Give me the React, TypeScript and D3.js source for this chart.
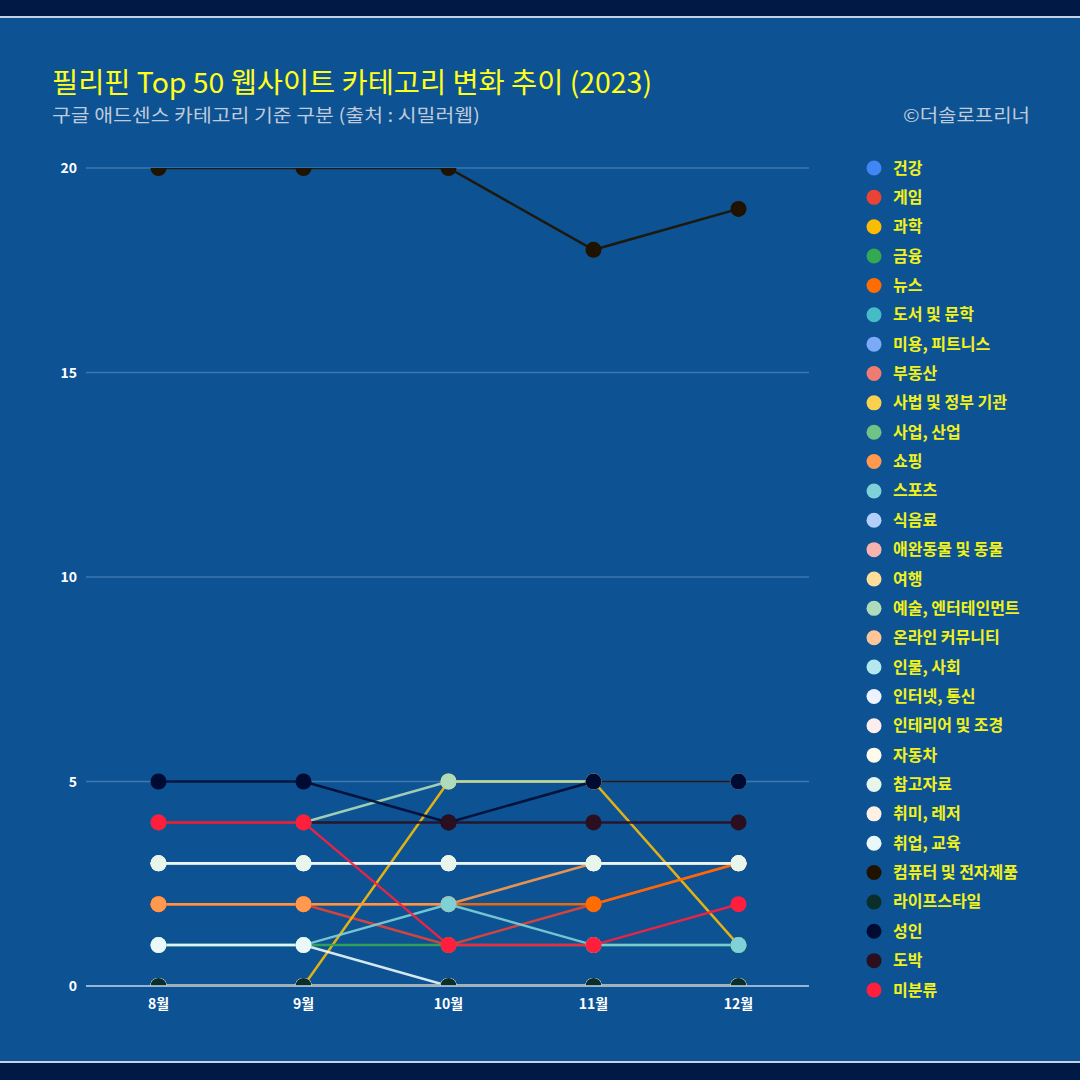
import React from "react";
import * as d3 from "d3";

const months = ["8월", "9월", "10월", "11월", "12월"];
const yTicks = [0, 5, 10, 15, 20];

const seriesNames = [
  "건강", "게임", "과학", "금융", "뉴스", "도서 및 문학", "미용, 피트니스", "부동산",
  "사법 및 정부 기관", "사업, 산업", "쇼핑", "스포츠", "식음료", "애완동물 및 동물", "여행",
  "예술, 엔터테인먼트", "온라인 커뮤니티", "인물, 사회", "인터넷, 통신", "인테리어 및 조경",
  "자동차", "참고자료", "취미, 레저", "취업, 교육", "컴퓨터 및 전자제품", "라이프스타일",
  "성인", "도박", "미분류",
];

const seriesColors = [
  "#4285F4", "#EA4335", "#FBBC04", "#34A853", "#FF6D01", "#46BDC6", "#7BAAF7", "#F07B72",
  "#FCD04F", "#71C287", "#FF994D", "#7ED1D7", "#B3CEFB", "#F7B4AE", "#FDDE99",
  "#AEDCBA", "#FFC599", "#B5E8EC", "#ECF3FE", "#FDEDEC",
  "#FFFBEB", "#E8F5EB", "#FFF0E6", "#EAF8F9", "#1F1300", "#0A2E2A",
  "#000B33", "#2B0F1E", "#FF1F3D",
];

const seriesValues: number[][] = [
  [0, 0, 0, 0, 0],     // 건강
  [2, 2, 1, 2, 3],     // 게임
  [0, 0, 5, 5, 1],     // 과학
  [1, 1, 1, 1, 1],     // 금융
  [2, 2, 2, 2, 3],     // 뉴스
  [0, 0, 0, 0, 0],     // 도서 및 문학
  [0, 0, 0, 0, 0],     // 미용, 피트니스
  [0, 0, 0, 0, 0],     // 부동산
  [0, 0, 0, 0, 0],     // 사법 및 정부 기관
  [0, 0, 0, 0, 0],     // 사업, 산업
  [2, 2, 2, 3, 3],     // 쇼핑
  [1, 1, 2, 1, 1],     // 스포츠
  [0, 0, 0, 0, 0],     // 식음료
  [0, 0, 0, 0, 0],     // 애완동물 및 동물
  [0, 0, 0, 0, 0],     // 여행
  [4, 4, 5, 5, 5],     // 예술, 엔터테인먼트
  [0, 0, 0, 0, 0],     // 온라인 커뮤니티
  [0, 0, 0, 0, 0],     // 인물, 사회
  [3, 3, 3, 3, 3],     // 인터넷, 통신
  [0, 0, 0, 0, 0],     // 인테리어 및 조경
  [3, 3, 3, 3, 3],     // 자동차
  [3, 3, 3, 3, 3],     // 참고자료
  [0, 0, 0, 0, 0],     // 취미, 레저
  [1, 1, 0, 0, 0],     // 취업, 교육
  [20, 20, 20, 18, 19], // 컴퓨터 및 전자제품
  [0, 0, 0, 0, 0],     // 라이프스타일
  [5, 5, 4, 5, 5],     // 성인
  [4, 4, 4, 4, 4],     // 도박
  [4, 4, 1, 1, 2],     // 미분류
];

const W = 1080;
const H = 1080;
const plotLeft = 86;
const plotRight = 811;
const plotTop = 168;
const plotBottom = 986;

export default function App() {
  const x = d3.scalePoint<string>().domain(months).range([plotLeft, plotRight]).padding(0.5);
  const y = d3.scaleLinear().domain([0, 20]).range([plotBottom, plotTop]);
  const line = d3
    .line<number>()
    .x((_, i) => x(months[i]) as number)
    .y((d) => y(d));

  const legendY = d3.scalePoint<string>().domain(seriesNames).range([168, 990]);
  const font = "'Noto Sans CJK KR', 'Noto Sans', sans-serif";

  return (
    <svg width={W} height={H} style={{ position: "absolute", left: 0, top: 0 }}>
      <rect x={0} y={0} width={W} height={H} fill="#001A45" />
      <rect x={0} y={16} width={W} height={1047} fill="#0D5293" />
      <line x1={0} x2={W} y1={17} y2={17} stroke="#FFFFFF" strokeWidth={1.5} />
      <line x1={0} x2={W} y1={1062} y2={1062} stroke="#FFFFFF" strokeWidth={1.5} />

      <text x={52} y={93} fill="#FFFF1A" fontFamily={font} fontSize={28} textLength={600} lengthAdjust="spacingAndGlyphs">
        필리핀 Top 50 웹사이트 카테고리 변화 추이 (2023)
      </text>
      <text x={52} y={122} fill="#BFCADA" fontFamily={font} fontSize={18} textLength={428} lengthAdjust="spacingAndGlyphs">
        구글 애드센스 카테고리 기준 구분 (출처 : 시밀러웹)
      </text>
      <text x={1030} y={122} fill="#BFCADA" fontFamily={font} fontSize={18} textAnchor="end" textLength={127} lengthAdjust="spacingAndGlyphs">
        ©더솔로프리너
      </text>

      {yTicks.map((t) => (
        <g key={t}>
          {t !== 0 && (
            <line x1={plotLeft} x2={plotRight - 2} y1={y(t)} y2={y(t)} stroke="#3B77B0" strokeWidth={1.5} />
          )}
          <text x={77} y={y(t) + 5} fill="#FFFFFF" fontFamily={font} fontSize={14} fontWeight="bold" textAnchor="end">
            {t}
          </text>
        </g>
      ))}

      <defs>
        <clipPath id="plotClip">
          <rect x={plotLeft} y={plotTop} width={plotRight - plotLeft} height={plotBottom - plotTop} />
        </clipPath>
      </defs>

      <g clipPath="url(#plotClip)">
        {seriesValues.map((vals, si) => (
          <path key={seriesNames[si]} d={line(vals) as string} fill="none" stroke={seriesColors[si]} strokeWidth={2.5} strokeOpacity={0.9} />
        ))}
        {seriesValues.map((vals, si) => (
          <g key={"m" + seriesNames[si]}>
            {vals.map((v, i) => (
              <circle key={i} cx={x(months[i]) as number} cy={y(v)} r={8} fill={seriesColors[si]} />
            ))}
          </g>
        ))}
      </g>

      <line x1={plotLeft} x2={plotRight - 2} y1={plotBottom} y2={plotBottom} stroke="#C9D6E6" strokeWidth={1.5} />

      {months.map((m) => (
        <text key={m} x={x(m) as number} y={1009} fill="#FFFFFF" fontFamily={font} fontSize={14} fontWeight="bold" textAnchor="middle">
          {m}
        </text>
      ))}

      {seriesNames.map((n, i) => (
        <g key={"l" + n}>
          <circle cx={874} cy={legendY(n) as number} r={7.5} fill={seriesColors[i]} />
          <text x={893} y={(legendY(n) as number) + 5.5} fill="#F2F21A" fontFamily={font} fontSize={16} fontWeight="bold">
            {n}
          </text>
        </g>
      ))}
    </svg>
  );
}
